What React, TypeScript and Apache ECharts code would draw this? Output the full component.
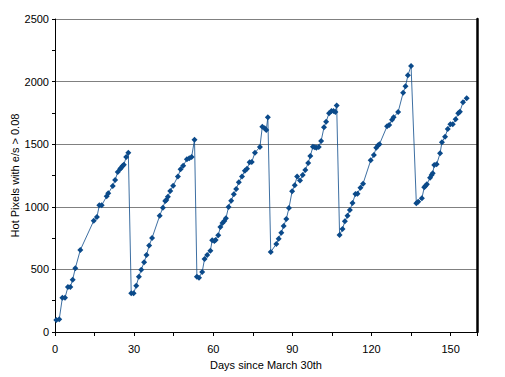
import React, { useEffect, useRef } from "react";
import * as echarts from "echarts";

const days: number[] = [
  0.5, 1.6, 2.8, 3.8, 4.9, 5.8, 6.7, 7.7, 9.6, 14.7, 15.9, 16.8, 17.7, 19.6, 20.2, 21.9, 22.8, 23.8, 24.7, 25.1, 25.6, 26.1, 27, 27.8,
  28.9, 29.8, 30.8, 31.8, 32.7, 33.8, 34.7, 35.7, 36.8, 39.7, 40.9, 41.8, 42.2, 42.8, 43.7, 44.8, 46.6, 47.6, 48.6, 50, 50.9, 51.8, 52.9,
  53.8, 54.6, 55.8, 56.7, 57.7, 58.9, 59.6, 60.4, 60.9, 61.9, 62.7, 63.5, 64.2, 64.8, 65.8, 66.8, 67.8, 68.7, 69.7, 70.9, 72, 72.8, 73.8, 74.6, 75.8, 77.7, 78.6, 79.5, 80.1, 80.7,
  81.8, 83.9, 84.8, 85.8, 86.7, 87.7, 88.7, 89.9, 90.9, 91.8, 92.9, 93.9, 94.9, 96, 96.8, 97.8, 98.5, 99.1, 100, 100.9, 102, 102.8, 103.9, 104.8, 105.6, 106.3, 106.8,
  107.9, 109, 109.9, 110.9, 111.8, 112.8, 113.9, 114.7, 115.8, 116.8, 119.7, 120.9, 121.8, 122.5, 123, 125.9, 126.7, 127.8, 128.4, 130.1, 132, 132.9, 133.8, 135,
  137, 137.7, 139.1, 140, 140.5, 141, 142.2, 142.8, 143.2, 143.8, 144.7, 146, 146.7, 147.9, 148.9, 149.9, 150.8, 151.9, 152.9, 153.5, 154.7, 156.1,
];

const hotPixels: number[] = [
  96, 101, 274, 274, 359, 359, 418, 509, 655, 889, 918, 1012, 1012, 1084, 1108, 1166, 1214, 1278, 1302, 1312, 1326, 1336, 1398, 1432,
  309, 309, 370, 442, 498, 557, 615, 690, 751, 929, 993, 1046, 1054, 1081, 1126, 1169, 1243, 1299, 1328, 1379, 1387, 1398, 1536,
  442, 434, 479, 583, 615, 649, 732, 727, 735, 772, 839, 871, 887, 908, 998, 1049, 1100, 1142, 1196, 1243, 1288, 1304, 1355, 1358, 1432, 1478, 1640, 1627, 1613, 1715,
  639, 703, 745, 793, 847, 903, 990, 1124, 1172, 1243, 1211, 1254, 1294, 1350, 1406, 1480, 1475, 1472, 1478, 1526, 1635, 1680, 1747, 1765, 1765, 1757, 1810,
  775, 823, 884, 929, 974, 1030, 1102, 1105, 1153, 1185, 1371, 1414, 1472, 1491, 1499, 1643, 1653, 1696, 1715, 1757, 1911, 1962, 2050, 2125,
  1028, 1041, 1068, 1156, 1168, 1180, 1232, 1254, 1268, 1334, 1339, 1427, 1515, 1560, 1621, 1659, 1659, 1699, 1747, 1760, 1835, 1867,
];

const xTicks: number[] = [0, 30, 60, 90, 120, 150];
const yTicks: number[] = [0, 500, 1000, 1500, 2000, 2500];

export default function App() {
  const ref = useRef<HTMLDivElement>(null);
  useEffect(() => {
    if (!ref.current) return;
    const chart = echarts.init(ref.current, null, { renderer: "svg" });
    const font = "'Liberation Sans', Arial, sans-serif";
    chart.setOption({
      animation: false,
      backgroundColor: "#ffffff",
      textStyle: { fontFamily: font },
      grid: { left: 55, right: 28, top: 19, bottom: 45, containLabel: false, outerBoundsMode: "none" },
      xAxis: {
        type: "value",
        min: 0,
        max: 160,
        interval: 30,
        name: "Days since March 30th",
        nameLocation: "middle",
        nameGap: 27,
        nameMoveOverlap: false,
        nameTextStyle: { color: "#000", fontSize: 11, fontFamily: font },
        axisLine: { show: true, onZero: false, lineStyle: { color: "#000", width: 1 } },
        axisTick: { show: true, length: 4, lineStyle: { color: "#000" } },
        minorTick: { show: true, splitNumber: 2, length: 4, lineStyle: { color: "#000" } },
        axisLabel: {
          color: "#000",
          fontSize: 11,
          margin: 11,
          fontFamily: font,
          formatter: (v: number) => (xTicks.includes(v) ? String(v) : ""),
        },
        splitLine: { show: false },
      },
      yAxis: [
        {
          type: "value",
          min: 0,
          max: 2500,
          interval: 500,
          name: "Hot Pixels with e/s > 0.08",
          nameLocation: "middle",
          nameGap: 35,
          nameRotate: 90,
          nameMoveOverlap: false,
          nameTextStyle: { color: "#000", fontSize: 11, fontFamily: font },
          axisLine: { show: true, lineStyle: { color: "#000", width: 1 } },
          axisTick: { show: true, length: 3, lineStyle: { color: "#000" } },
          minorTick: { show: true, splitNumber: 2, length: 3, lineStyle: { color: "#000" } },
          axisLabel: {
            color: "#000",
            fontSize: 11,
            margin: 6,
            fontFamily: font,
            formatter: (v: number) => (yTicks.includes(v) ? String(v) : ""),
          },
          splitLine: { show: true, lineStyle: { color: "#808080", width: 1 } },
        },
        {
          type: "value",
          position: "right",
          min: 0,
          max: 2500,
          axisLine: { show: true, lineStyle: { color: "#000", width: 2.5 } },
          axisTick: { show: false },
          axisLabel: { show: false },
          splitLine: { show: false },
        },
      ],
      series: [
        {
          type: "line",
          yAxisIndex: 0,
          data: days.map((d, i) => [d, hotPixels[i]]),
          symbol: "diamond",
          symbolSize: 6,
          showSymbol: true,
          lineStyle: { color: "#0b4a8a", width: 0.8 },
          itemStyle: { color: "#0b4a8a" },
        },
      ],
    });
    return () => chart.dispose();
  }, []);
  return <div ref={ref} style={{ width: 505, height: 377, position: "absolute", left: 0, top: 0 }} />;
}
